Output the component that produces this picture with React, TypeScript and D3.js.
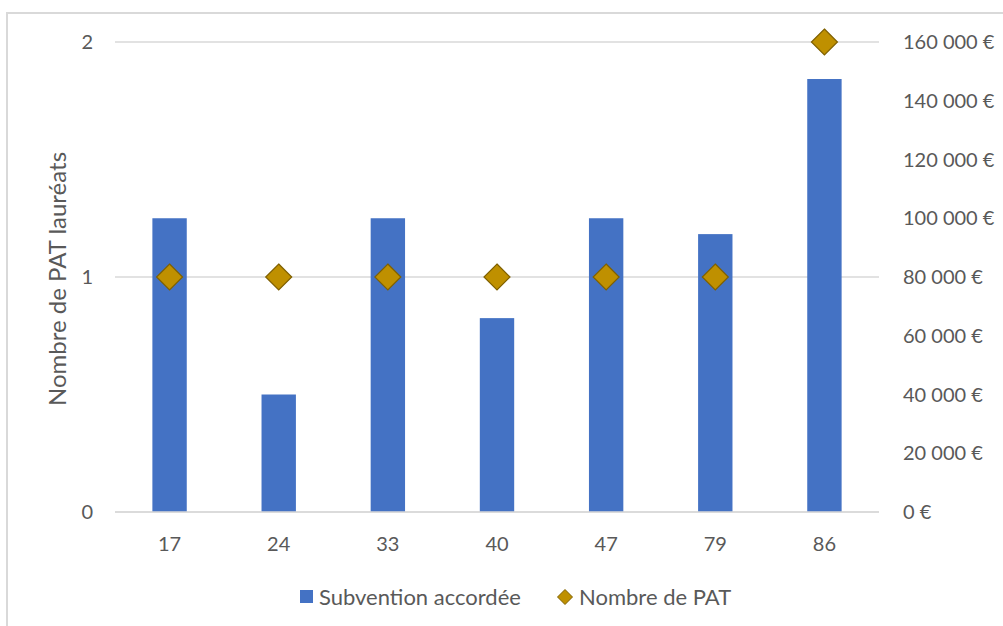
import React from "react";
import * as d3 from "d3";

const categories = ["17", "24", "33", "40", "47", "79", "86"];
const subvention = [100000, 40000, 100000, 66000, 100000, 94600, 147400];
const nombrePAT = [1, 1, 1, 1, 1, 1, 2];
const leftTicks = [0, 1, 2];
const rightTicks = [0, 20000, 40000, 60000, 80000, 100000, 120000, 140000, 160000];

const W = 1003;
const H = 626;
const FONT = "Lato, 'Open Sans', sans-serif";
const TXT = "#595959";
const GRID = "#d9d9d9";
const BAR = "#4472c4";
const DIA = "#bf9000";
const DIA_STROKE = "#7f6000";

const fmtEuro = (v: number) =>
  (v === 0 ? "0" : d3.format(",")(v).replace(/,/g, " ")) + " €";

export default function App() {
  const left = 115;
  const right = 879;
  const top = 42;
  const bottom = 512;

  const x = d3.scaleBand<string>().domain(categories).range([left, right]).paddingInner(0.685).paddingOuter(0.3425);
  const yL = d3.scaleLinear().domain([0, 2]).range([bottom, top]);
  const yR = d3.scaleLinear().domain([0, 160000]).range([bottom, top]);

  const diamond = (cx: number, cy: number, r: number) =>
    `M${cx},${cy - r}L${cx + r},${cy}L${cx},${cy + r}L${cx - r},${cy}Z`;

  return (
    <svg width={W} height={H} style={{ position: "absolute", left: 0, top: 0, display: "block" }}>
      <rect x={0} y={0} width={W} height={H} fill="#fff" />
      <rect x={7} y={13} width={W + 20} height={H + 20} fill="none" stroke={GRID} strokeWidth={2} />
      {leftTicks.map((t) => (
        <line key={"g" + t} x1={left} x2={right} y1={yL(t)} y2={yL(t)} stroke={GRID} strokeWidth={1.5} />
      ))}
      {categories.map((c, i) => (
        <rect key={"b" + c} x={x(c)} y={yR(subvention[i])} width={x.bandwidth()} height={bottom - yR(subvention[i])} fill={BAR} />
      ))}
      <line x1={left} x2={right} y1={bottom} y2={bottom} stroke={GRID} strokeWidth={1.5} />
      {categories.map((c, i) => (
        <path key={"d" + c} d={diamond(x(c)! + x.bandwidth() / 2, yL(nombrePAT[i]), 13)} fill={DIA} stroke={DIA_STROKE} strokeWidth={1.2} />
      ))}
      {leftTicks.map((t) => (
        <text key={"l" + t} x={93} y={yL(t)} dy="0.35em" textAnchor="end" fontFamily={FONT} fontSize={20} fill={TXT}>{t}</text>
      ))}
      {rightTicks.map((t) => (
        <text key={"r" + t} x={903} y={yR(t)} dy="0.35em" textAnchor="start" fontFamily={FONT} fontSize={20} fill={TXT}>{fmtEuro(t)}</text>
      ))}
      {categories.map((c) => (
        <text key={"x" + c} x={x(c)! + x.bandwidth() / 2} y={544} dy="0.35em" textAnchor="middle" fontFamily={FONT} fontSize={20} fill={TXT}>{c}</text>
      ))}
      <text transform={`translate(58,279) rotate(-90)`} dy="0.35em" textAnchor="middle" fontFamily={FONT} fontSize={24} fill={TXT}>Nombre de PAT lauréats</text>
      <rect x={300} y={590} width={13} height={13} fill={BAR} />
      <text x={319} y={597} dy="0.35em" fontFamily={FONT} fontSize={22} fill={TXT}>Subvention accordée</text>
      <path d={diamond(565, 597, 7.5)} fill={DIA} stroke={DIA_STROKE} strokeWidth={1} />
      <text x={579} y={597} dy="0.35em" fontFamily={FONT} fontSize={22} fill={TXT}>Nombre de PAT</text>
    </svg>
  );
}
